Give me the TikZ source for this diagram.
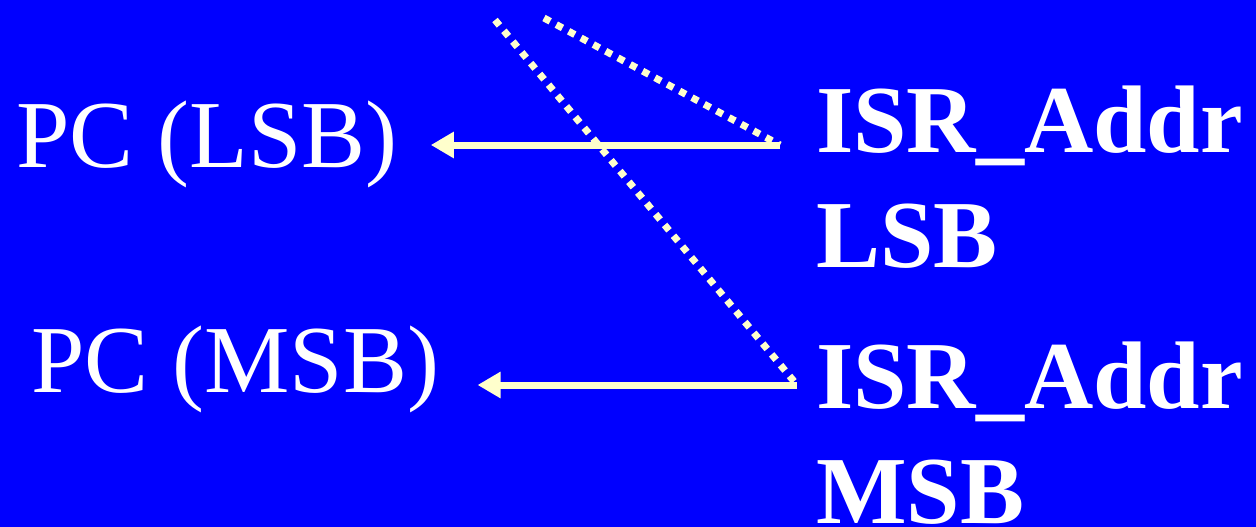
\documentclass[tikz,border=0pt]{standalone}
\usepackage{fontspec}
\setmainfont{Liberation Serif}
\usetikzlibrary{arrows.meta}
\definecolor{cbg}{HTML}{0000FF}
\definecolor{cpale}{HTML}{FFFFCC}

\begin{document}
\begin{tikzpicture}[x=1pt,y=-1pt,font=\fontsize{96}{115}\selectfont,>={Triangle[length=23pt,width=25pt]}]
  \tikzstyle{lbl}=[text=white,inner sep=0pt,anchor=base west,align=left]
  \tikzstyle{arr}=[draw=cpale,line width=7pt,->]
  \tikzstyle{dots}=[draw=cpale,line width=7pt,dash pattern=on 7pt off 7pt]

  % background
  \fill[cbg] (0,0) rectangle (1256,527);
  \useasboundingbox (0,0) rectangle (1256,527);

  % program counter
  \node[lbl] (pcL) at (16,167) {PC (LSB)};
  \node[lbl] (pcM) at (31,392) {PC (MSB)};
  % vector table (base = last line)
  \node[lbl,font=\fontsize{96}{115}\selectfont\bfseries] (isrL) at (816,267) {ISR\_Addr\\LSB};
  \node[lbl,font=\fontsize{96}{115}\selectfont\bfseries] (isrM) at (816,523) {ISR\_Addr\\MSB};

  \coordinate (srcL) at (780,145);
  \coordinate (srcM) at (797,385);
  \coordinate (topA) at (544,18);
  \coordinate (topB) at (495,20);

  \draw[arr,shorten >=33pt] (srcL) -- (srcL -| pcL.east);
  \draw[arr,shorten >=38pt] (srcM) -- (srcM -| pcM.east);
  \draw[dots] (topA) -- (srcL);
  \draw[dots] (topB) -- (srcM);
\end{tikzpicture}
\end{document}
